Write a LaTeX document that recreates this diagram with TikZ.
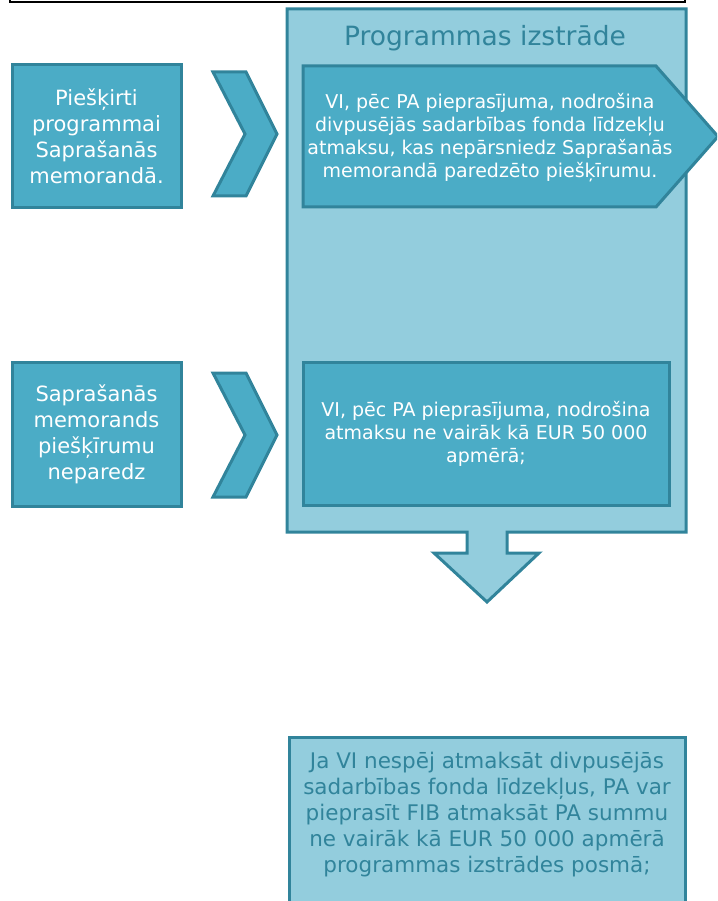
\documentclass[tikz,border=0pt]{standalone}
\usepackage{fontspec}
\setmainfont{DejaVu Sans}
\definecolor{lt}{HTML}{93CDDD}
\definecolor{md}{HTML}{4BACC6}
\definecolor{bd}{HTML}{31849B}
\begin{document}
\begin{tikzpicture}[x=1pt,y=-1pt,
  darkbox/.style={draw=bd, line width=3pt, fill=md, text=white, align=center, inner sep=0pt},
  darkshape/.style={draw=bd, line width=3pt, fill=md, line join=miter},
  lightshape/.style={draw=bd, line width=3pt, fill=lt, line join=miter},
  midtext/.style={font=\fontsize{19}{23}\selectfont, align=center, text=white},
  fibtext/.style={font=\fontsize{21.5}{26}\selectfont, align=center, text=bd}]
\useasboundingbox (0,0) rectangle (717,901);
\clip (0,0) rectangle (717,901);
% top frame
\draw[black, line width=1.5pt] (10,-20) rectangle (685,2);
% container with down arrow
\draw[lightshape] (287,9) -- (686,9) -- (686,532) -- (507,532) -- (507,553) -- (539,553)
  -- (487,602) -- (434,553) -- (467,553) -- (467,532) -- (287,532) -- cycle;
\node[text=bd, font=\fontsize{26.5}{30}\selectfont] (title) at (485,38) {Programmas izstrāde};
% left boxes
\node[darkbox, minimum width=169pt, minimum height=143pt, font=\fontsize{21}{26}\selectfont] (a1) at (96.5,136.5)
  {Piešķirti\\programmai\\Saprašanās\\memorandā.};
\node[darkbox, minimum width=169pt, minimum height=144pt, font=\fontsize{21}{26}\selectfont] (a2) at (96.5,434)
  {Saprašanās\\memorands\\piešķīrumu\\neparedz};
% chevrons
\draw[darkshape] (213,72) -- (246,72) -- (277,134) -- (246,196) -- (213,196) -- (245,134) -- cycle;
\draw[darkshape] (213,373) -- (246,373) -- (277,435) -- (246,497) -- (213,497) -- (245,435) -- cycle;
% inner pentagon
\draw[darkshape] (303,66) -- (656,66) -- (718,136.5) -- (656,207) -- (303,207) -- cycle;
\node[midtext] (b1) at (490,138)
  {VI, pēc PA pieprasījuma, nodrošina\\divpusējās sadarbības fonda līdzekļu\\atmaksu, kas nepārsniedz Saprašanās\\memorandā paredzēto piešķīrumu.};
% inner box 2
\node[darkbox, minimum width=366pt, minimum height=143pt, font=\fontsize{19}{23}\selectfont] (b2) at (486,433.5)
  {VI, pēc PA pieprasījuma, nodrošina\\atmaksu ne vairāk kā EUR 50 000\\apmērā;};
% bottom box
\draw[lightshape] (289,737) rectangle (685,960);
\node[fibtext] (c) at (487,815)
  {Ja VI nespēj atmaksāt divpusējās\\sadarbības fonda līdzekļus, PA var\\pieprasīt FIB atmaksāt PA summu\\ne vairāk kā EUR 50 000 apmērā\\programmas izstrādes posmā;};
\end{tikzpicture}
\end{document}
